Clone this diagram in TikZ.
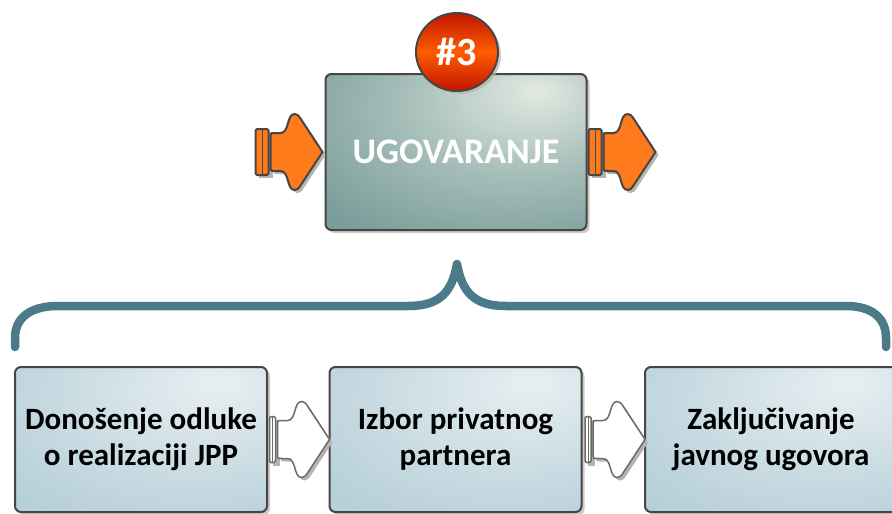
\documentclass[tikz,border=0pt]{standalone}
\usepackage{fontspec}
\setmainfont{Carlito}
\usetikzlibrary{shadows,shapes.geometric}
\definecolor{edge}{HTML}{464646}
\definecolor{mainhi}{HTML}{E2E9E2}
\definecolor{mainmid}{HTML}{A8BFBA}
\definecolor{maindark}{HTML}{7A9D99}
\definecolor{boxhi}{HTML}{E8EFF2}
\definecolor{boxmid}{HTML}{CFDFE5}
\definecolor{boxdark}{HTML}{B6CFD9}
\definecolor{orangeA}{HTML}{FF7A1A}
\definecolor{badgedark}{HTML}{C01500}
\definecolor{badgelight}{HTML}{FF5C00}
\definecolor{bracecol}{HTML}{4B7B88}
\definecolor{shadowcol}{HTML}{B8B4AC}
\pgfdeclareradialshading{mainshade}{\pgfpoint{16bp}{20bp}}{color(0bp)=(mainhi); color(22bp)=(mainmid); color(45bp)=(maindark); color(100bp)=(maindark)}
\pgfdeclareradialshading{boxshade}{\pgfpoint{16bp}{20bp}}{color(0bp)=(boxhi); color(22bp)=(boxmid); color(45bp)=(boxdark); color(100bp)=(boxdark)}
\newcommand{\arrowbody}{(-52,14) -- (-52,-14) .. controls (-52,-19) .. (-47,-19) -- (-42,-19) .. controls (-33,-19) and (-36,-38) .. (-28,-38) .. controls (-25,-38) and (-24,-36) .. (-23,-35) -- (0,0) -- (-23,35) .. controls (-24,36) and (-25,38) .. (-28,38) .. controls (-36,38) and (-33,19) .. (-42,19) -- (-47,19) .. controls (-52,19) .. (-52,14) -- cycle}
\tikzset{
  mainbox/.style={draw=edge, line width=2pt, rounded corners=6pt, minimum width=261pt, minimum height=156pt,
    shading=mainshade, text=white, font=\bfseries\fontsize{36}{42}\selectfont,
    drop shadow={shadow xshift=3pt, shadow yshift=-3pt, fill=shadowcol, opacity=0.7}},
  stagebox/.style={draw=edge, line width=2pt, rounded corners=6pt, minimum width=252pt, minimum height=145pt,
    shading=boxshade, text=black, align=center, font=\bfseries\fontsize{31}{36}\selectfont,
    drop shadow={shadow xshift=3pt, shadow yshift=-3pt, fill=shadowcol, opacity=0.7}},
  badge/.style={ellipse, draw=edge, line width=2pt, minimum width=82pt, minimum height=78pt, inner sep=0pt,
    top color=badgedark, bottom color=badgedark, middle color=badgelight,
    text=white, font=\bfseries\fontsize{40}{46}\selectfont,
    drop shadow={shadow xshift=3pt, shadow yshift=-3pt, fill=shadowcol, opacity=0.7}},
  bracestyle/.style={draw=bracecol, line width=8.5pt, line cap=round, line join=round},
  flowarrow/.pic={
    \path[fill=shadowcol, shift={(3,3)}] \arrowbody;
    \path[fill=shadowcol, shift={(3,3)}] (#1,-23) rectangle (-53,23);
    \path[pic actions] \arrowbody;
    \path[pic actions, rounded corners=1.5pt] (#1,-23) rectangle (-54,23);
    \path[pic actions, fill=none, line width=1pt] ({(#1-54)/2},-23) -- ({(#1-54)/2},23);
  }
}
\begin{document}
\begin{tikzpicture}[x=1pt, y=-1pt]
\useasboundingbox (0,0) rectangle (892,514);
% bottom stages
\node[stagebox] (b1) at (141,439.5) {Donošenje odluke\\o realizaciji JPP};
\node[stagebox] (b2) at (455.5,439.5) {Izbor privatnog\\partnera};
\node[stagebox] (b3) at (771,439.5) {Zaključivanje\\javnog ugovora};
% main box
\node[mainbox] (main) at (456,152) {UGOVARANJE};
\node[badge] (num) at (457,52) {\#3};
% orange arrows
\pic[fill=orangeA, draw=edge, line width=2pt] at ([xshift=-2pt]main.west) {flowarrow=-67};
\pic[fill=orangeA, draw=edge, line width=2pt] at ([xshift=68pt]main.east) {flowarrow=-67};
% connectors between stages
\pic[fill=white, draw=edge!80, line width=1.5pt] at ([xshift=1pt]b2.west) {flowarrow=-60};
\pic[fill=white, draw=edge!80, line width=1.5pt] at ([xshift=1pt]b3.west) {flowarrow=-60};
% brace
\coordinate (braceL) at (15,347);
\coordinate (braceTop) at (457,264);
\coordinate (braceR) at (886,347);
\draw[bracestyle] (braceL) -- (15,338) .. controls (15,318) and (30,306) .. (58,306) -- (408,306)
  .. controls (440,306) and (452,292) .. (braceTop)
  .. controls (462,292) and (474,306) .. (506,306) -- (846,306)
  .. controls (872,306) and (886,318) .. (886,338) -- (braceR);
\end{tikzpicture}
\end{document}
